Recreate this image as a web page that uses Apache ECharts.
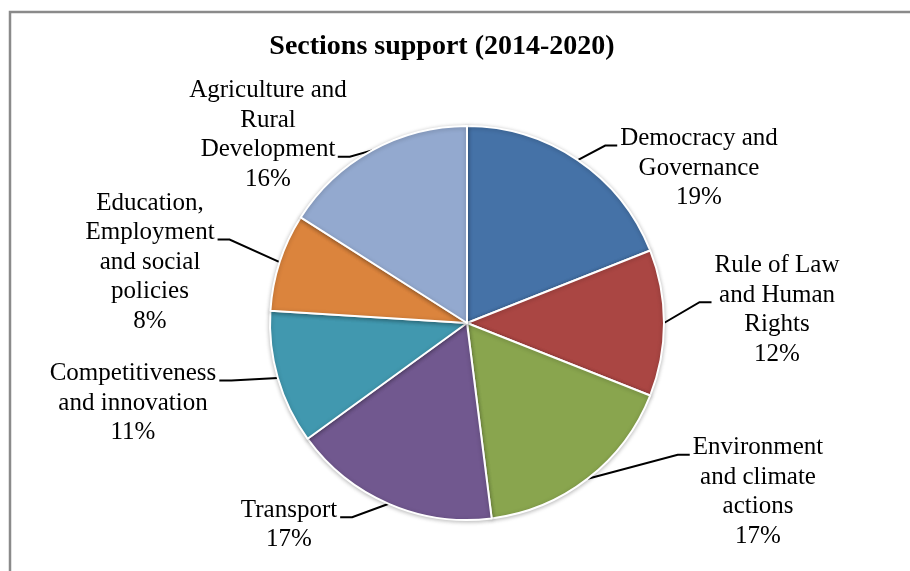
<!DOCTYPE html>
<html>
<head>
<meta charset="utf-8">
<script src="https://cdn.jsdelivr.net/npm/echarts@6/dist/echarts.min.js"></script>
<style>
html,body{margin:0;padding:0;background:#fff;}
#chart{width:910px;height:571px;}
</style>
</head>
<body>
<div id="chart"></div>
<script>
var titleText = 'Sections support (2014-2020)';
var categories = [
  'Democracy and\nGovernance',
  'Rule of Law\nand Human\nRights',
  'Environment\nand climate\nactions',
  'Transport',
  'Competitiveness\nand innovation',
  'Education,\nEmployment\nand social\npolicies',
  'Agriculture and\nRural\nDevelopment'
];
var values = [19, 12, 17, 17, 11, 8, 16];
var colors = ['#4572A7', '#AA4643', '#89A54E', '#71588F', '#4198AF', '#DB843D', '#93A9CF'];

// label block centres and which side / line the leader line hooks onto
var labelCenters = [[699, 168], [777, 310], [758, 492], [289, 525], [133, 403], [150, 262], [268, 135]];
var labelHooks = [['left', 0, 0], ['left', 1, 0], ['left', 0, 0], ['right', 0, 0], ['right', 0, 0], ['right', 1, 0], ['right', 2, 12]];

var chart = echarts.init(document.getElementById('chart'));
var data = categories.map(function (c, i) {
  return { name: c, value: values[i], itemStyle: { color: colors[i] } };
});

chart.setOption({
  animation: false,
  backgroundColor: '#fff',
  title: {
    text: titleText,
    left: 437,
    top: 28,
    textAlign: 'center',
    textStyle: { fontFamily: 'Liberation Serif', fontWeight: 'bold', fontSize: 28, color: '#000' }
  },
  graphic: [{
    type: 'polyline',
    shape: { points: [[10, 571], [10, 12], [910, 12]] },
    style: { stroke: '#8a8a8a', lineWidth: 2.5, fill: null },
    silent: true
  }],
  series: [{
    type: 'pie',
    center: [467, 323],
    radius: 197,
    startAngle: 90,
    clockwise: true,
    data: data,
    itemStyle: {
      borderColor: '#fff',
      borderWidth: 2,
      shadowBlur: 4,
      shadowColor: 'rgba(0,0,0,0.25)',
      shadowOffsetY: 1
    },
    label: {
      show: true,
      position: 'outside',
      fontFamily: 'Liberation Serif',
      fontSize: 25,
      lineHeight: 29.5,
      color: '#000',
      formatter: function (p) { return p.name + '\n' + Math.round(p.percent) + '%'; }
    },
    labelLine: {
      show: true,
      length: 15,
      length2: 10,
      lineStyle: { color: '#000', width: 2 }
    },
    labelLayout: function (p) {
      var i = p.dataIndex;
      var c = labelCenters[i];
      var hook = labelHooks[i];
      var w = p.labelRect.width, h = p.labelRect.height;
      var n = categories[i].split('\n').length + 1;
      var lh = h / n;
      var yEnd = c[1] - h / 2 + (hook[1] + 0.5) * lh + 7;
      var xEnd = hook[0] === 'left' ? c[0] - w / 2 - 3 + hook[2] : c[0] + w / 2 + 3 - hook[2];
      var xBend = hook[0] === 'left' ? xEnd - 12 : xEnd + 12;
      var pts = p.labelLinePoints;
      return {
        x: c[0], y: c[1], align: 'center', verticalAlign: 'middle',
        labelLinePoints: [pts[0], [xBend, yEnd], [xEnd, yEnd]]
      };
    }
  }]
});
</script>
</body>
</html>
